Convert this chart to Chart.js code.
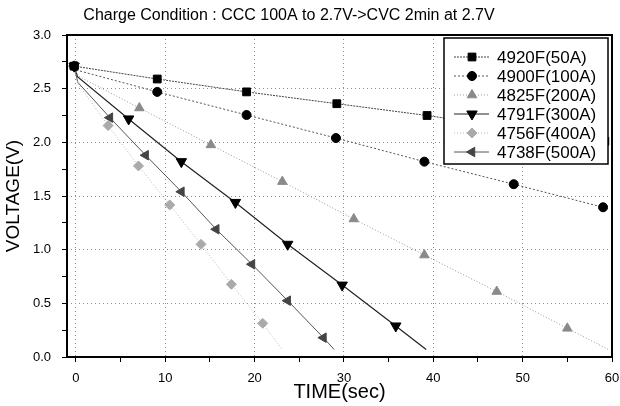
<!DOCTYPE html>
<html><head><meta charset="utf-8">
<script src="https://cdn.jsdelivr.net/npm/chart.js@4"></script>
<style>html,body{margin:0;padding:0;background:#fff}</style>
</head><body>
<canvas id="c" width="620" height="406"></canvas>
<script>
// ---- data ----
const chartTitle = 'Charge Condition : CCC 100A to 2.7V->CVC 2min at 2.7V';
const xTitle = 'TIME(sec)';
const yTitle = 'VOLTAGE(V)';
const labels = ['4920F(50A)', '4900F(100A)', '4825F(200A)', '4791F(300A)', '4756F(400A)', '4738F(500A)'];

const t4920 = [-0.2, 9.1, 19.1, 29.2, 39.3, 49.2, 59.2];
const v4920 = [2.71, 2.59, 2.47, 2.36, 2.25, 2.13, 2.01];
const m4920 = [1, 1, 1, 1, 1, 1, 1];

const t4900 = [-0.2, 0.2, 9.1, 19.1, 29.1, 39.0, 49.0, 59.0];
const v4900 = [2.71, 2.67, 2.47, 2.255, 2.04, 1.82, 1.61, 1.395];
const m4900 = [1, 0, 1, 1, 1, 1, 1, 1];

const t4825 = [-0.2, 0.2, 7.1, 15.1, 23.1, 31.1, 39.0, 47.1, 55.0, 59.6];
const v4825 = [2.71, 2.62, 2.32, 1.976, 1.634, 1.286, 0.95, 0.61, 0.267, 0.07];
const m4825 = [1, 0, 1, 1, 1, 1, 1, 1, 1, 0];

const t4791 = [-0.2, 0.2, 5.9, 11.8, 17.85, 23.7, 29.8, 35.8, 39.2];
const v4791 = [2.71, 2.61, 2.218, 1.82, 1.44, 1.05, 0.67, 0.289, 0.07];
const m4791 = [1, 0, 1, 1, 1, 1, 1, 1, 0];

const t4756 = [-0.2, 0.2, 3.6, 7.0, 10.5, 14.0, 17.4, 20.9, 23.1];
const v4756 = [2.71, 2.55, 2.156, 1.78, 1.417, 1.05, 0.677, 0.314, 0.07];
const m4756 = [1, 0, 1, 1, 1, 1, 1, 1, 0];

const t4738 = [-0.2, 0.2, 3.8, 7.8, 11.8, 15.7, 19.7, 23.7, 27.7, 28.9];
const v4738 = [2.71, 2.56, 2.23, 1.88, 1.54, 1.19, 0.864, 0.525, 0.18, 0.07];
const m4738 = [1, 0, 1, 1, 1, 1, 1, 1, 1, 0];

// ---- styles ----
const FONT = "'Liberation Sans', Arial, sans-serif";
const styles = [
  {T: t4920, V: v4920, M: m4920, ps: 'rect',     rot: 0,   r: 5.5, pc: '#000', lc: '#444', dash: [2, 1], lw: 1},
  {T: t4900, V: v4900, M: m4900, ps: 'circle',   rot: 0,   r: 4.5, pc: '#000', lc: '#555', dash: [2, 2], lw: 1},
  {T: t4825, V: v4825, M: m4825, ps: 'triangle', rot: 0,   r: 5.5, pc: '#8a8a8a', lc: '#999', dash: [1, 2], lw: 1},
  {T: t4791, V: v4791, M: m4791, ps: 'triangle', rot: 180, r: 6,   pc: '#000', lc: '#222', dash: [], lw: 1.2},
  {T: t4756, V: v4756, M: m4756, ps: 'rectRot',  rot: 0,   r: 5,   pc: '#aaa', lc: '#b5b5b5', dash: [1, 2], lw: 1},
  {T: t4738, V: v4738, M: m4738, ps: 'triangle', rot: -90, r: 5.5, pc: '#444', lc: '#555', dash: [], lw: 1}
];

const datasets = styles.map((s, k) => ({
  label: labels[k],
  data: s.T.map((t, i) => ({x: t, y: s.V[i]})),
  showLine: true,
  tension: 0,
  borderColor: s.lc,
  borderWidth: s.lw,
  borderDash: s.dash,
  pointStyle: s.ps,
  rotation: s.rot,
  pointRadius: c => s.M[c.dataIndex] ? s.r : 0,
  pointHoverRadius: c => s.M[c.dataIndex] ? s.r : 0,
  pointBackgroundColor: s.pc,
  pointBorderColor: s.pc,
  pointBorderWidth: 1
}));

const titleShift = {
  id: 'titleShift',
  afterLayout(chart) {
    const t = chart.titleBlock;
    if (t) { t.left = 0; t.right = 578; t.width = 578; }
  }
};

const framePlugin = {
  id: 'frame',
  afterDatasetsDraw(chart) {
    const {ctx, chartArea: a} = chart;
    ctx.save();
    ctx.strokeStyle = '#000';
    ctx.lineWidth = 2;
    ctx.strokeRect(a.left, a.top, a.right - a.left, a.bottom - a.top);
    ctx.restore();
  }
};

const legendPlugin = {
  id: 'boxLegend',
  afterDraw(chart) {
    const ctx = chart.ctx;
    const a = chart.chartArea;
    const x0 = a.right - 168, y0 = a.top + 3, w = 164, h = 126;
    ctx.save();
    ctx.fillStyle = '#fff';
    ctx.fillRect(x0, y0, w, h);
    ctx.strokeStyle = '#000';
    ctx.lineWidth = 1.5;
    ctx.strokeRect(x0, y0, w, h);
    chart.data.datasets.forEach((ds, k) => {
      const s = styles[k];
      const y = y0 + 19 + k * 19;
      ctx.save();
      ctx.strokeStyle = s.lc;
      ctx.lineWidth = s.lw;
      ctx.setLineDash(s.dash);
      ctx.beginPath();
      ctx.moveTo(x0 + 10, y);
      ctx.lineTo(x0 + 45, y);
      ctx.stroke();
      ctx.restore();
      ctx.fillStyle = s.pc;
      ctx.strokeStyle = s.pc;
      ctx.lineWidth = 1;
      Chart.helpers.drawPoint(ctx, {pointStyle: s.ps, rotation: s.rot, radius: s.r, borderWidth: 1}, x0 + 28, y);
      ctx.fillStyle = '#000';
      ctx.font = '17px ' + FONT;
      ctx.textBaseline = 'middle';
      ctx.textAlign = 'left';
      ctx.fillText(ds.label, x0 + 53, y + 1);
    });
    ctx.restore();
  }
};

new Chart(document.getElementById('c'), {
  type: 'scatter',
  data: {datasets},
  options: {
    responsive: false,
    animation: false,
    devicePixelRatio: 1,
    layout: {padding: {left: 0, right: 8, top: 0, bottom: 0}},
    plugins: {
      legend: {display: false},
      tooltip: {enabled: false},
      title: {
        display: true, text: chartTitle, color: '#000',
        font: {family: FONT, size: 16, weight: 'normal'},
        padding: {top: 6, bottom: 9.8}
      }
    },
    scales: {
      x: {
        type: 'linear', min: -1, max: 60,
        afterBuildTicks: s => { s.ticks = s.ticks.filter(t => t.value >= 0); },
        afterFit: s => { s.height = 49; s.paddingRight = 0; s.paddingLeft = 0; },
        ticks: {
          stepSize: 5, includeBounds: false, color: '#000', padding: 9, maxRotation: 0, autoSkip: false,
          font: {family: FONT, size: 13},
          callback: v => (v % 10 === 0 ? String(v) : '')
        },
        grid: {
          color: c => (c.tick && c.tick.value % 10 === 0 ? '#8c8c8c' : 'rgba(0,0,0,0)'),
          tickColor: '#000', tickLength: 5, lineWidth: 1
        },
        border: {display: false, dash: [1, 3]},
        title: {display: true, text: xTitle, color: '#000', font: {family: FONT, size: 20}, padding: {top: 0, bottom: 2}}
      },
      y: {
        type: 'linear', min: 0, max: 3,
        afterFit: s => { s.width = 67; },
        ticks: {
          stepSize: 0.25, color: '#000', padding: 11, autoSkip: false,
          font: {family: FONT, size: 13},
          callback: v => (Math.abs(v * 2 - Math.round(v * 2)) < 1e-9 ? v.toFixed(1) : '')
        },
        grid: {
          color: c => (c.tick && Math.abs(c.tick.value * 2 - Math.round(c.tick.value * 2)) < 1e-9 ? '#8c8c8c' : 'rgba(0,0,0,0)'),
          tickColor: '#000', tickLength: 5, lineWidth: 1
        },
        border: {display: false, dash: [1, 3]},
        title: {display: true, text: yTitle, color: '#000', font: {family: FONT, size: 19}, padding: {top: 2, bottom: 0}}
      }
    }
  },
  plugins: [titleShift, framePlugin, legendPlugin]
});
</script>
</body></html>
